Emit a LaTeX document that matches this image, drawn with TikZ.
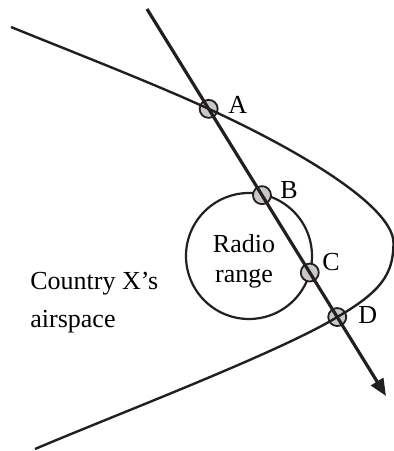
\documentclass[tikz,border=0pt]{standalone}
\usepackage{fontspec}
\setmainfont{Liberation Serif}
\usepackage{tikz}
\usetikzlibrary{arrows.meta,calc}
\definecolor{inkline}{RGB}{35,31,32}
\definecolor{ptfill}{RGB}{200,200,200}

\tikzset{
  border/.style={line width=1.2pt, inkline},
  path line/.style={line width=1.6pt, inkline},
  crosspt/.style={circle, draw=inkline, fill=ptfill, line width=0.9pt, minimum size=9pt, inner sep=0pt},
  ptlabel/.style={anchor=base west, inner sep=0pt, font=\fontsize{13}{15}\selectfont},
}

\begin{document}
\begin{tikzpicture}[x=0.5pt, y=-0.5pt]
    \useasboundingbox (0,0) rectangle (394,451);

    % Radio range circle
    \node[circle, draw=inkline, line width=1.1pt, minimum size=63pt, inner sep=0pt] (radio) at (249,256) {};
    \node[ptlabel, anchor=base] (radioA) at (244,252) {Radio};
    \node[ptlabel, anchor=base] (radioB) at (244,282) {range};

    % Airspace text
    \node[ptlabel] (countryA) at (30,289) {Country X’s};
    \node[ptlabel] (countryB) at (30,327) {airspace};

    % Flight path end points
    \coordinate (start) at (147,9);
    \coordinate (tip) at (386,396);

    % Crossing points on the path
    \foreach \p/\t in {A/0.258, B/0.481, C/0.681, D/0.796} {
      \node[crosspt] (\p) at ($(start)!\t!(tip)$) {};
    }

    % Border of the airspace
    \coordinate (vertex) at (393.5,243);
    \draw[border] (11,27) .. controls (80,55) and (150,82) .. (A.center)
      .. controls (311,156) and (393.5,209) .. (vertex)
      .. controls (393.5,275) and (380,292) .. (D.center)
      .. controls (278,353) and (115,415) .. (35,449);

    % Flight path
    \draw[path line, -{Triangle[length=8.5pt, width=7pt]}] (start) -- (tip);

    % Point labels
    \foreach \p/\x/\y in {A/228/113, B/280/198, C/322/270, D/358/323} {
      \node[ptlabel] (lab\p) at (\x,\y) {\p};
    }
\end{tikzpicture}
\end{document}
